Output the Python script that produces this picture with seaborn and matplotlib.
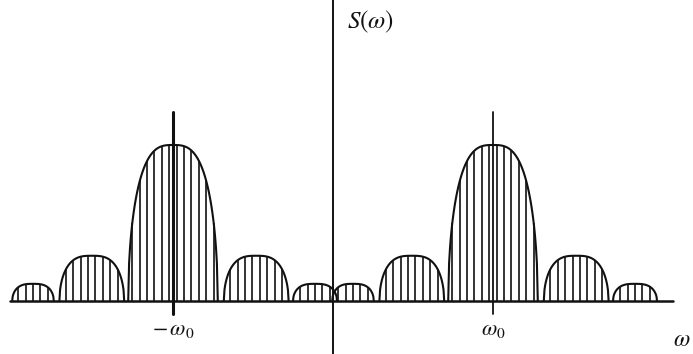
import numpy as np
import pandas as pd
import matplotlib
matplotlib.use("Agg")
import matplotlib.pyplot as plt
import seaborn as sns

# ---- data (1 x-unit ~ 40 px, peak height = 1) ----
omega0 = 4.0
centers = [-omega0, omega0]
lobe_offsets = [-3.5, -2.03, 0.0, 2.08, 3.55]
lobe_halfwidths = [0.52, 0.81, 1.12, 0.81, 0.55]
lobe_heights = [0.11, 0.29, 1.0, 0.29, 0.11]
hatch_step = 0.185
tick_labels = [r"$-\,\omega_0$", r"$\omega_0$"]
axis_x_label = r"$\omega$"
axis_y_label = r"$S(\omega)$"

sns.set_theme(style="white")
plt.rcParams["mathtext.fontset"] = "stix"
plt.rcParams["font.family"] = ["Liberation Serif", "DejaVu Serif"]

fig = plt.figure(figsize=(6.93, 3.54), dpi=100)
ax = fig.add_axes([0, 0, 1, 1])
ax.set_xlim(-333 / 40, 360 / 40)
ax.set_ylim((301 - 354) / 156, 301 / 156)
ax.axis("off")

ink = "#111111"


def arch(t):
    return np.sqrt(np.clip(1 - np.abs(t) ** 3, 0, 1))


rows = []
hx, hy = [], []
for ci, c in enumerate(centers):
    for li, (off, hw, h) in enumerate(zip(lobe_offsets, lobe_halfwidths, lobe_heights)):
        mid = c + off
        xs = np.linspace(mid - hw, mid + hw, 100)
        ys = h * arch((xs - mid) / hw)
        for x, y in zip(xs, ys):
            rows.append({"x": x, "y": y, "lobe": f"{ci}-{li}"})
        n = int(np.floor(2 * hw / hatch_step))
        start = mid - (n - 1) * hatch_step / 2
        for k in range(n):
            x = start + k * hatch_step
            hx.append(x)
            hy.append(h * float(arch((x - mid) / hw)))

df = pd.DataFrame(rows)
sns.lineplot(data=df, x="x", y="y", units="lobe", estimator=None,
             color=ink, linewidth=1.5, ax=ax, legend=False, sort=False)
ax.vlines(hx, 0, hy, color=ink, linewidth=1.2)

# axes
ax.plot([(10 - 333) / 40, (673 - 333) / 40], [0, 0], color=ink, linewidth=1.8)
ax.plot([0, 0], [(301 - 354) / 156, 301 / 156], color=ink, linewidth=1.4)
# center ticks
for c, lw in zip(centers, [2.2, 1.3]):
    ax.plot([c, c], [(301 - 314) / 156, (301 - 112) / 156], color=ink, linewidth=lw)

# labels
for c, lab in zip(centers, tick_labels):
    ax.text(c, (301 - 331) / 156, lab, ha="center", va="center", fontsize=16, color=ink)
ax.text((682 - 333) / 40, (301 - 340) / 156, axis_x_label, ha="center", va="center",
        fontsize=17, color=ink)
ax.text((347 - 333) / 40, (301 - 22) / 156, axis_y_label, ha="left", va="center",
        fontsize=18, color=ink)

fig.savefig("out.png", dpi=100, facecolor="white")
